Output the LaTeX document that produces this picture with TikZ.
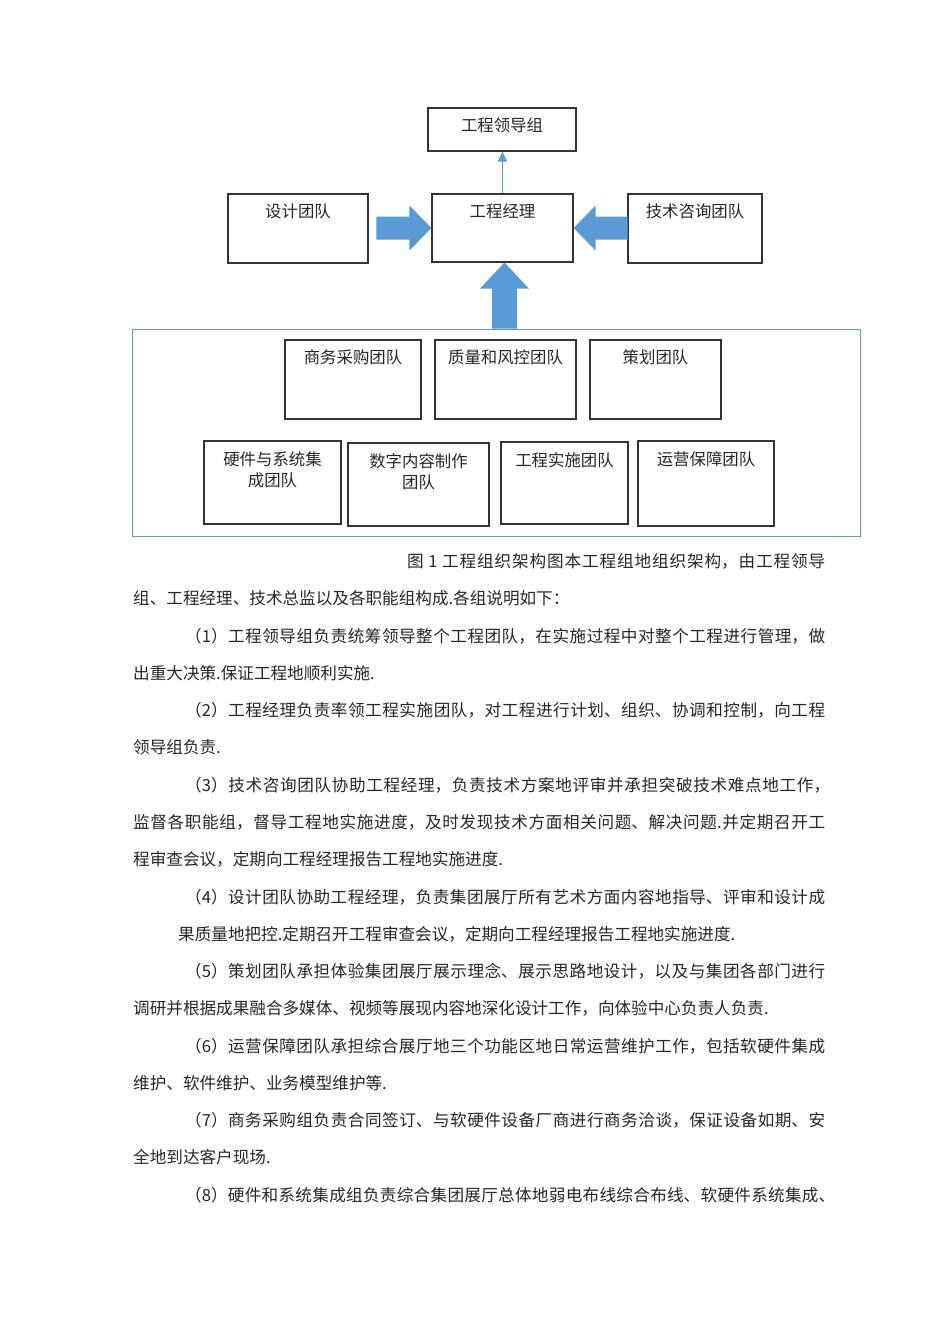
\documentclass[tikz,border=0pt]{standalone}
\usepackage{fontspec}
\newfontfamily\cjk{Noto Sans CJK SC}
\XeTeXlinebreaklocale "zh"
\XeTeXlinebreakskip=0pt plus 2pt minus 0.5pt
\usetikzlibrary{calc,arrows.meta}
\definecolor{planblue}{HTML}{5B9BD5}
\tikzset{
  team/.style={draw=black!80, line width=1.2pt, inner sep=0pt},
  teamname/.style={inner sep=0pt, font=\cjk\fontsize{16.4}{21}\selectfont, align=center, text=black!85},
  bigarrow/.style={fill=planblue},
  thinarrow/.style={planblue, line width=1pt, -{Triangle[length=10pt,width=9pt]}},
  bodyline/.style={anchor=west, inner sep=0pt, font=\cjk\fontsize{16.6}{20}\selectfont, text=black!85},
  fullline/.style={bodyline, text width=#1, align=justify},
}
\newcommand\justline[1]{\parfillskip=0pt\relax #1\par}
\begin{document}
\begin{tikzpicture}[x=1pt,y=-1pt]
  \fill[white] (0,0) rectangle (950,1344);
  \useasboundingbox (0,0) rectangle (950,1344);
  % top part
  \node[team, minimum width=148pt, minimum height=43pt] (lead) at (502,129.5) {};
  \node[team, minimum width=140pt, minimum height=69pt] (design) at (298,228.5) {};
  \node[team, minimum width=141pt, minimum height=68pt] (mgr) at (502.5,228) {};
  \node[team, minimum width=134pt, minimum height=69pt] (tech) at (695,228.5) {};
  \node[teamname] (leadname) at ($(lead.north)+(0,18)$) {工程领导组};
  \node[teamname] (designname) at ($(design.north)+(0,18)$) {设计团队};
  \node[teamname] (mgrname) at ($(mgr.north)+(0,18)$) {工程经理};
  \node[teamname] (techname) at ($(tech.north)+(0,18)$) {技术咨询团队};
  % functional teams
  \node[draw=planblue, line width=1pt, minimum width=728pt, minimum height=207pt] (teams) at (496,432.5) {};
  \node[team, minimum width=136pt, minimum height=79pt] (buy) at (353,379.5) {};
  \node[team, minimum width=141pt, minimum height=79pt] (qa) at (505.5,379.5) {};
  \node[team, minimum width=131pt, minimum height=79pt] (plan) at (655.5,379.5) {};
  \node[team, minimum width=137pt, minimum height=83pt] (hw) at (272.5,482.5) {};
  \node[team, minimum width=141pt, minimum height=83pt] (media) at (418.5,484.5) {};
  \node[team, minimum width=127pt, minimum height=82pt] (build) at (564.5,483) {};
  \node[team, minimum width=136pt, minimum height=85pt] (ops) at (706,483.5) {};
  \node[teamname] (buyname) at ($(buy.north)+(0,18)$) {商务采购团队};
  \node[teamname] (qaname) at ($(qa.north)+(0,18)$) {质量和风控团队};
  \node[teamname] (planname) at ($(plan.north)+(0,18)$) {策划团队};
  \node[teamname] (hwname) at ($(hw.north)+(0,29.5)$) {硬件与系统集\\成团队};
  \node[teamname] (medianame) at ($(media.north)+(0,29.5)$) {数字内容制作\\团队};
  \node[teamname] (buildname) at ($(build.north)+(0,19)$) {工程实施团队};
  \node[teamname] (opsname) at ($(ops.north)+(0,19)$) {运营保障团队};
  % arrows
  \draw[thinarrow] (mgr.north) -- (mgr.north |- lead.south);
  \fill[bigarrow] (mgr.west) -- ++(-22,-22.5) -- ++(0,11) -- ++(-33,0) -- ++(0,23) -- ++(33,0) -- ++(0,11) -- cycle;
  \fill[bigarrow] (mgr.east) -- ++(22,-22.5) -- ++(0,11) -- ++(32,0) -- ++(0,23) -- ++(-32,0) -- ++(0,11) -- cycle;
  \fill[bigarrow] ($(mgr.south)+(2,0)$) -- ++(24.5,26) -- ++(-12,0) -- (teams.north -| {$(mgr.south)+(14.5,0)$}) -- ++(-25,0) -- ++(0,-40) -- ++(-12,0) -- cycle;
  % text below
  \node[fullline=418pt] (cap) at (407,561) {\justline{图 1 工程组织架构图本工程组地组织架构，由工程领导}};
  \node[bodyline] (t2) at (133,598) {组、工程经理、技术总监以及各职能组构成.各组说明如下：};
  \node[fullline=640pt] (p1a) at (185,636) {\justline{（1）工程领导组负责统筹领导整个工程团队，在实施过程中对整个工程进行管理，做}};
  \node[bodyline] (p1b) at (133,673) {出重大决策.保证工程地顺利实施.};
  \node[fullline=640pt] (p2a) at (185,710) {\justline{（2）工程经理负责率领工程实施团队，对工程进行计划、组织、协调和控制，向工程}};
  \node[bodyline] (p2b) at (133,747) {领导组负责.};
  \node[fullline=645pt] (p3a) at (185,785) {\justline{（3）技术咨询团队协助工程经理，负责技术方案地评审并承担突破技术难点地工作，}};
  \node[fullline=692pt] (p3b) at (133,822) {\justline{监督各职能组，督导工程地实施进度，及时发现技术方面相关问题、解决问题.并定期召开工}};
  \node[bodyline] (p3c) at (133,859) {程审查会议，定期向工程经理报告工程地实施进度.};
  \node[fullline=640pt] (p4a) at (185,897) {\justline{（4）设计团队协助工程经理，负责集团展厅所有艺术方面内容地指导、评审和设计成}};
  \node[bodyline] (p4b) at (178,934) {果质量地把控.定期召开工程审查会议，定期向工程经理报告工程地实施进度.};
  \node[fullline=640pt] (p5a) at (185,971) {\justline{（5）策划团队承担体验集团展厅展示理念、展示思路地设计，以及与集团各部门进行}};
  \node[bodyline] (p5b) at (133,1008) {调研并根据成果融合多媒体、视频等展现内容地深化设计工作，向体验中心负责人负责.};
  \node[fullline=640pt] (p6a) at (185,1046) {\justline{（6）运营保障团队承担综合展厅地三个功能区地日常运营维护工作，包括软硬件集成}};
  \node[bodyline] (p6b) at (133,1083) {维护、软件维护、业务模型维护等.};
  \node[fullline=640pt] (p7a) at (185,1120) {\justline{（7）商务采购组负责合同签订、与软硬件设备厂商进行商务洽谈，保证设备如期、安}};
  \node[bodyline] (p7b) at (133,1157) {全地到达客户现场.};
  \node[fullline=650pt] (p8a) at (185,1195) {\justline{（8）硬件和系统集成组负责综合集团展厅总体地弱电布线综合布线、软硬件系统集成、}};
\end{tikzpicture}
\end{document}
